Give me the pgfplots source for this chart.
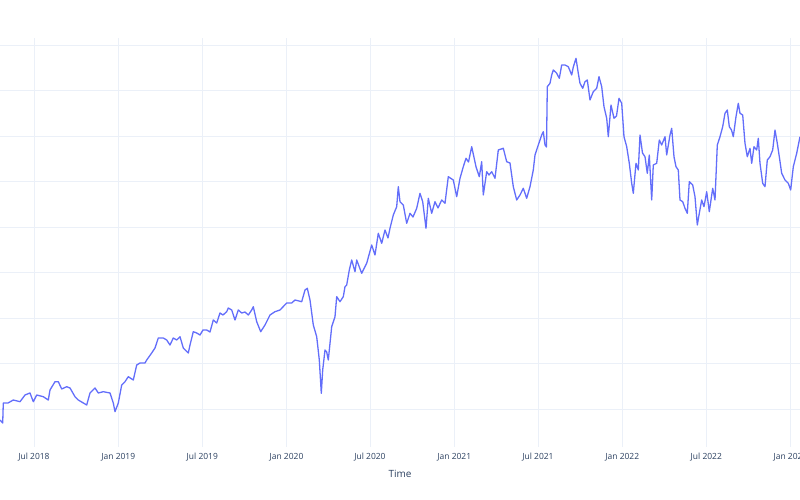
\documentclass[border=0pt]{standalone}
\usepackage{pgfplots}
\pgfplotsset{compat=1.18}
\usepackage{fontspec}
\setmainfont{Open Sans}
\definecolor{gridc}{HTML}{EBF0F8}
\definecolor{linec}{HTML}{636EFA}
\definecolor{textc}{HTML}{2A3F5F}
\begin{document}
\begin{tikzpicture}
\useasboundingbox (0bp,0bp) rectangle (800bp,500bp);
\begin{axis}[
  at={(0bp,53bp)}, anchor=south west,
  scale only axis, width=800bp, height=409bp,
  xmin=0, xmax=800, ymin=53, ymax=462,
  axis line style={draw=none},
  major tick length=0pt,
  xtick={34,118.3,202.3,286.5,370,454.3,538,622.3,706.3,790.5},
  xticklabels={Jul 2018,Jan 2019,Jul 2019,Jan 2020,Jul 2020,Jan 2021,Jul 2021,Jan 2022,Jul 2022,Jan 2023},
  ytick={91,136.5,182,227.5,273,318.5,364,409.5,455},
  yticklabels={},
  grid=major,
  grid style={draw=gridc, line width=0.8bp},
  tick label style={font=\fontsize{8.5}{10}\selectfont, text=textc},
  xticklabel style={yshift=-3bp},
  xlabel={Time},
  xlabel style={font=\fontsize{10}{12}\selectfont, text=textc, yshift=-1.5bp},
  /pgf/number format/assume math mode=true,
]
\addplot[linec, line width=1.3bp, line join=round] coordinates {
(0,80) (2.7,77) (3.3,97) (8,97) (13.3,100) (20,98.3) (25,105) (30,107) (33.3,98.3) (36.7,105)
(43.3,103.3) (48.3,100) (50,110) (55,118.3) (58.3,118.3) (61.7,111) (66.7,113.3) (70,112) (75,103.3) (78.3,100)
(86.7,95) (90,107) (95,112) (98.3,107) (103.3,108.3) (110,107) (113.3,97) (115,88.3) (118.3,97) (121.7,115)
(125,118.3) (128.3,123.3) (133.3,120) (136.7,135) (140,137) (145,137) (146.7,140) (151.7,147) (155,152) (158.3,162)
(163.3,162) (166.7,160) (170,155) (173.3,162) (176.7,160) (180,163.3) (183.3,152) (188.3,147) (190,155) (193.3,168.3)
(196.7,167) (200,165) (203,170) (206.7,170) (210,168) (213.3,180) (216.7,177) (220,187) (223,185) (226.7,188.3)
(228.3,192) (231.7,190) (235,180) (238.3,190) (241.7,187) (245,188) (248.3,185) (251.7,190) (253.3,193.3) (256.7,178.3)
(260.7,168.3) (265,175) (270,185) (275,188.3) (280,190) (286.7,197) (291.7,197) (295,200) (301.7,198.3) (305,210)
(307.3,211.7) (310,200) (313.3,175) (316.7,163.3) (319.3,140) (321.3,106.7) (322.7,130) (325,150) (326.7,148) (328.3,140)
(331.7,173.3) (335,183.3) (336.7,203.3) (340,198.3) (343.3,203.3) (345,213.3) (346.7,215) (349.3,230) (351.7,240) (355,228.3)
(356.7,240) (361.7,226.7) (366.7,236.7) (371.7,255) (375,245) (378.3,266.7) (381.7,256.7) (385,270) (388,262) (390,271.7)
(393.3,285) (396.7,293.3) (398.3,313.3) (400,298.3) (403.3,295) (406.7,276.7) (410,286.7) (413,283) (416.7,291.7) (420,306.7)
(422.7,298.3) (426,271.7) (428.3,301.7) (431.7,286.7) (435,298.3) (438,292) (441.7,300) (445,296.7) (448.3,323.3) (453.3,320)
(456.7,303.3) (460,321.7) (463.3,333.3) (466,341.7) (468.5,338) (471.7,353.3) (476,333.3) (479.3,323.3) (481.7,338.3) (483.3,305)
(486.7,328.3) (489,325) (491.7,328.3) (495,321.7) (498.3,350) (503.3,351.7) (506.7,338.3) (510,337) (513.3,313.3) (516.7,300)
(520,305) (523.3,311.7) (526.7,301.7) (530,313.3) (533.3,330) (535,345) (538.3,355) (541.7,365) (543.3,368.3) (545,355)
(546.5,353) (547.3,413.3) (550,416.7) (551.7,425) (553.3,430) (556.5,427) (559.3,421.7) (561.7,435) (565,435) (568.3,433.3)
(571.7,425) (573.3,433) (576,441.7) (578.3,426.7) (580,416.7) (582.7,411.7) (585,418.3) (587.3,420) (590,400) (593.3,408.3)
(596.7,411.7) (599,423.3) (601.7,413.3) (604,393.3) (606.7,381.7) (608.3,363.3) (611,395) (614,381.7) (616.5,384) (619,401.7)
(621.7,396.7) (624,363.3) (626.7,353.3) (629.3,336.7) (631.7,316.7) (633.3,306.7) (636,336.7) (638.3,330) (640,365) (642.5,347)
(645,343.3) (647.3,326.7) (649.3,345) (651.7,300) (653.3,335) (656.7,336.7) (659.3,360) (661.7,355) (665,363.3) (666.7,345)
(670,365) (671.7,371.7) (674,343.3) (676,333.3) (678.3,330) (680,300) (682.7,298.3) (685,291.7) (687.3,286.7) (689.3,318.3)
(692.7,315) (695,303.3) (697.3,275) (699.3,286.7) (701.7,300) (704,293.3) (706.7,308.3) (709.3,288.3) (712.7,311.7) (715,300)
(717.3,355) (720,363.3) (722.7,373.3) (725,386.7) (727.3,390) (729.3,373.3) (731.5,370) (733.3,363.3) (736,383.3) (738.3,396.7)
(740,386.7) (742.7,385) (745,356.7) (747.3,343.3) (750,351.7) (751.7,336.7) (754,353.3) (756.7,350) (758.3,361.7) (760,336.7)
(762.7,316.7) (765,313.3) (767.3,340) (770,343.3) (772.7,350) (775,370) (777.3,356.7) (779.3,343.3) (781.7,326.7) (785,320)
(788.3,316.7) (790.7,310) (793.3,333.3) (796.7,346.7) (800,363.3)
};
\end{axis}
\end{tikzpicture}
\end{document}
